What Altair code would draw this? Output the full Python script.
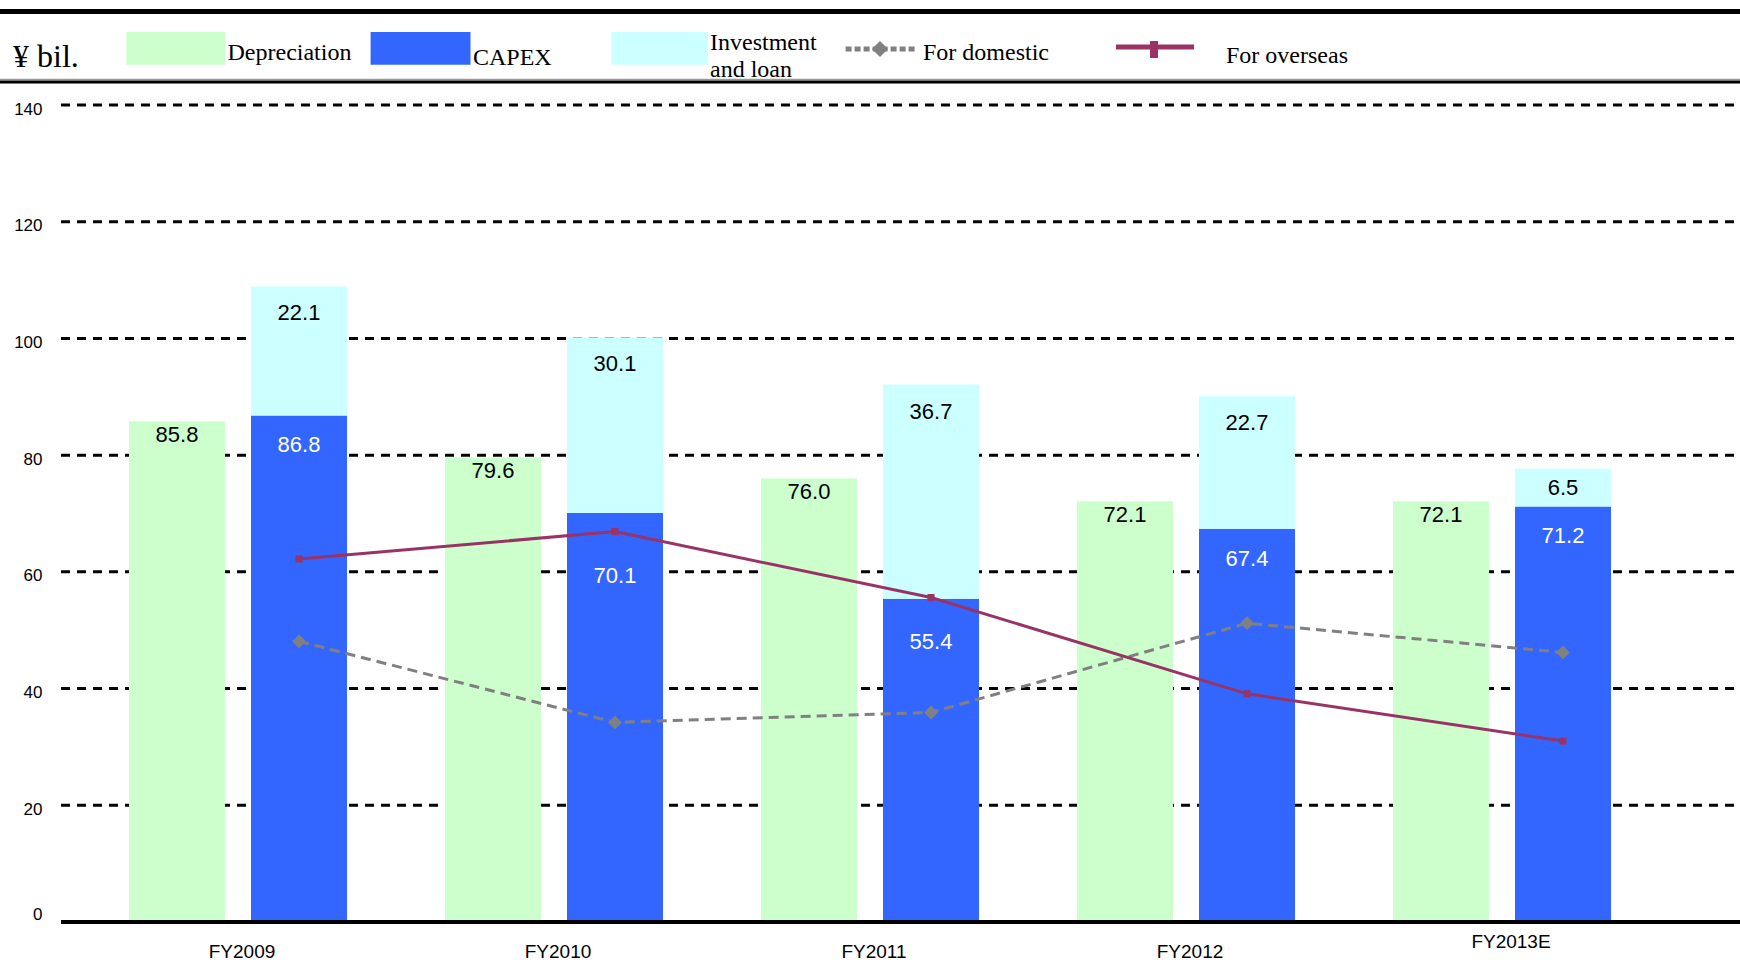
import altair as alt
import pandas as pd

# ---- data ----
categories = ["FY2009", "FY2010", "FY2011", "FY2012", "FY2013E"]
depreciation = [85.8, 79.6, 76.0, 72.1, 72.1]
capex = [86.8, 70.1, 55.4, 67.4, 71.2]
investment = [22.1, 30.1, 36.7, 22.7, 6.5]
for_domestic = [48.1, 34.2, 35.9, 51.2, 46.2]
for_overseas = [62.2, 66.9, 55.6, 39.1, 31.0]
y_ticks = [0, 20, 40, 60, 80, 100, 120, 140]
unit_label = "¥ bil."
legend_labels = ["Depreciation", "CAPEX", "Investment\nand loan", "For domestic", "For overseas"]

# ---- tables built from the arrays ----
rows = []
for c, d, k, v, o in zip(categories, depreciation, capex, investment, for_overseas):
    rows.append({"cat": c, "sub": "dep", "series": "Depreciation", "y0": 0.0, "y1": d, "val": d, "ovs": o})
    rows.append({"cat": c, "sub": "cap", "series": "CAPEX", "y0": 0.0, "y1": k, "val": k, "ovs": o})
    rows.append({"cat": c, "sub": "cap", "series": "Investment", "y0": k, "y1": k + v, "val": v, "ovs": o})
bars_df = pd.DataFrame(rows)
lines_df = pd.DataFrame({"cat": categories, "sub": ["cap"] * len(categories),
                         "domestic": for_domestic, "overseas": for_overseas})
grid_df = pd.DataFrame({"v": [t for t in y_ticks if t > 0]})
one = pd.DataFrame({"k": [0]})

W, H = 1580, 817
PX = H / 140.0  # pixels per unit

GREEN, BLUE, CYAN = "#CCFFCC", "#3366FF", "#CCFFFF"
PURPLE, GRAY = "#993366", "#808080"
SERIF = "Liberation Serif"
SANS = "Liberation Sans"

x_scale = alt.Scale(domain=categories, paddingInner=0.31, paddingOuter=0.155)
xo_scale = alt.Scale(domain=["dep", "cap"], paddingInner=0.213, paddingOuter=0)
y_scale = alt.Scale(domain=[0, 140], nice=False)

x_axis = alt.Axis(title=None, domain=False, ticks=False, grid=False, labelAngle=0,
                  labelFont=SANS, labelFontSize=19, labelColor="black",
                  labelPadding={"condition": {"test": "datum.value == 'FY2013E'", "value": 10}, "value": 20},
                  labelOffset={"condition": {"test": "datum.value == 'FY2013E'", "value": 9}, "value": 4})
y_axis = alt.Axis(values=y_ticks, title=None, grid=False, domain=False, ticks=False,
                  labelFont=SANS, labelFontSize=17, labelColor="black",
                  labelPadding=38,
                  labelOffset={"condition": {"test": "datum.value == 0", "value": -8}, "value": 4})

x_enc = alt.X("cat:N", sort=categories, scale=x_scale, axis=x_axis)
xo_enc = alt.XOffset("sub:N", scale=xo_scale)

def yq(field):
    return alt.Y(field, scale=y_scale, axis=y_axis)

# gridlines (dashed, extending to the label edge on the left and the page edge on the right)
grid = alt.Chart(grid_df).mark_rule(color="black", strokeWidth=3, strokeDash=[9, 7]).encode(
    y=yq("v:Q"), x=alt.value(-19), x2=alt.value(W + 80))

bars = alt.Chart(bars_df).mark_bar().encode(
    x=x_enc, xOffset=xo_enc,
    y=yq("y1:Q"),
    y2="y0:Q",
    color=alt.Color("series:N", scale=alt.Scale(domain=["Depreciation", "CAPEX", "Investment"],
                                                range=[GREEN, BLUE, CYAN]), legend=None))

base_axis = alt.Chart(one).mark_rule(color="black", strokeWidth=4).encode(
    y=alt.datum(0, scale=y_scale, axis=y_axis), x=alt.value(-19), x2=alt.value(W + 80))

# label placement: just inside the top of each segment; a CAPEX label moves
# below the overseas line when that line crosses its spot
lab_base = alt.Chart(bars_df).transform_calculate(
    ly=("datum.series == 'Depreciation' ? datum.y1 - 14/{p} : "
        "(datum.series == 'CAPEX' ? (datum.ovs > datum.y1 - 12 ? datum.ovs - 44/{p} : datum.y1 - 30/{p}) : "
        "max(datum.y1 - 27/{p}, (datum.y0 + datum.y1)/2))").format(p=PX)
)
labels_dark = lab_base.transform_filter("datum.series != 'CAPEX'").mark_text(
    font=SANS, fontSize=22, color="black", baseline="middle").encode(
    x=x_enc, xOffset=xo_enc, y=yq("ly:Q"),
    text=alt.Text("val:Q", format=".1f"))
labels_light = lab_base.transform_filter("datum.series == 'CAPEX'").mark_text(
    font=SANS, fontSize=22, color="white", baseline="middle").encode(
    x=x_enc, xOffset=xo_enc, y=yq("ly:Q"),
    text=alt.Text("val:Q", format=".1f"))

dom_line = alt.Chart(lines_df).mark_line(color=GRAY, strokeWidth=3, strokeDash=[10, 6]).encode(
    x=x_enc, xOffset=xo_enc, y=yq("domestic:Q"))
dom_pts = alt.Chart(lines_df).mark_point(shape="diamond", filled=True, size=190, color=GRAY, opacity=1).encode(
    x=x_enc, xOffset=xo_enc, y=yq("domestic:Q"))
ovs_line = alt.Chart(lines_df).mark_line(color=PURPLE, strokeWidth=3).encode(
    x=x_enc, xOffset=xo_enc, y=yq("overseas:Q"))
ovs_pts = alt.Chart(lines_df).mark_point(shape="square", filled=True, size=50, color=PURPLE, opacity=1).encode(
    x=x_enc, xOffset=xo_enc, y=yq("overseas:Q"))

# ---- decorative header: rules and custom legend ----
def hrule(y, x1, x2, color, sw):
    return alt.Chart(one).mark_rule(color=color, strokeWidth=sw).encode(
        x=alt.value(x1), x2=alt.value(x2), y=alt.value(y))

top_rule = hrule(-93.5, -80, W + 80, "black", 5)
leg_rule_gray = hrule(-25.5, -80, W + 80, "#999999", 1.5)
leg_rule = hrule(-23, -80, W + 80, "black", 3)

def swatch(x1, x2, color):
    return alt.Chart(one).mark_rect(color=color).encode(
        x=alt.value(x1), x2=alt.value(x2), y=alt.value(-73), y2=alt.value(-40.3))

def ltext(txt, x, y, size=24, **kw):
    return alt.Chart(one).mark_text(font=SERIF, fontSize=size, color="black", align="left",
                                    baseline="alphabetic", **kw).encode(
        x=alt.value(x), y=alt.value(y), text=alt.value(txt))

legend_layers = [
    ltext(unit_label, -67, -38, size=32),
    swatch(46.5, 145, GREEN), ltext(legend_labels[0], 147.5, -45),
    swatch(290.6, 390.5, BLUE), ltext(legend_labels[1], 393, -40),
    swatch(531.4, 628, CYAN), ltext(legend_labels[2], 630, -55, lineBreak="\n", lineHeight=27),
    alt.Chart(one).mark_rule(color=GRAY, strokeWidth=5, strokeDash=[6, 3]).encode(
        x=alt.value(765.6), x2=alt.value(835.5), y=alt.value(-56)),
    alt.Chart(one).mark_point(shape="diamond", filled=True, size=260, color=GRAY, opacity=1).encode(
        x=alt.value(800), y=alt.value(-56)),
    ltext(legend_labels[3], 843, -45),
    alt.Chart(one).mark_rule(color=PURPLE, strokeWidth=5).encode(
        x=alt.value(1036), x2=alt.value(1114), y=alt.value(-58)),
    alt.Chart(one).mark_rule(color=PURPLE, strokeWidth=8).encode(
        x=alt.value(1074), y=alt.value(-64), y2=alt.value(-47)),
    ltext(legend_labels[4], 1146, -42),
]

chart = alt.layer(
    grid, bars, base_axis, labels_dark, labels_light,
    dom_line, dom_pts, ovs_line, ovs_pts,
    top_rule, leg_rule_gray, leg_rule, *legend_layers
).properties(
    width=W, height=H,
    autosize=alt.AutoSizeParams(type="none"),
    padding={"left": 80, "top": 105, "right": 80, "bottom": 38},
    background="white",
).configure_view(stroke=None)

chart.save("out.html", embed_options={"renderer": "svg", "actions": False})
